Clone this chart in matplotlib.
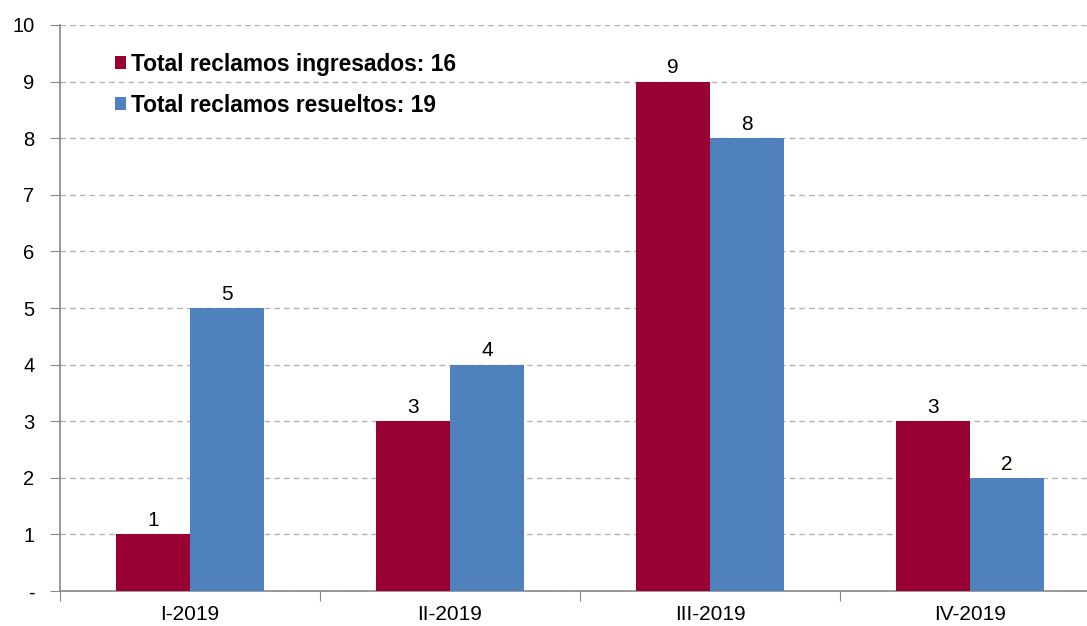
import matplotlib
matplotlib.use("Agg")
import matplotlib.pyplot as plt
import numpy as np

categories = ["I-2019", "II-2019", "III-2019", "IV-2019"]
ingresados = [1, 3, 9, 3]
resueltos = [5, 4, 8, 2]
legend_labels = ["Total reclamos ingresados: 16", "Total reclamos resueltos: 19"]
ytick_labels = ["-", "1", "2", "3", "4", "5", "6", "7", "8", "9", "10"]

plt.rcParams['font.family'] = ['Liberation Sans', 'DejaVu Sans']

fig = plt.figure(figsize=(10.87, 6.26), dpi=100)
ax = fig.add_axes([60/1087, 35/626, 1040/1087, 566/626])

x = np.arange(len(categories))
w = 0.285
red = "#990033"
blue = "#4F81BD"
b1 = ax.bar(x - w/2, ingresados, w, color=red, label=legend_labels[0], zorder=3)
b2 = ax.bar(x + w/2, resueltos, w, color=blue, label=legend_labels[1], zorder=3)
ax.bar_label(b1, padding=3, fontsize=15)
ax.bar_label(b2, padding=3, fontsize=15)

ax.set_xlim(-0.5, len(categories) - 0.5)
ax.set_ylim(0, 10)
ax.set_yticks(range(11))
ax.set_yticklabels(ytick_labels, fontsize=14.5)
ax.yaxis.grid(True, linestyle=(0, (4, 3)), color="#b3b3b3", linewidth=1, zorder=0)

ax.set_xticks(np.arange(-0.5, len(categories) + 0.5, 1.0))
ax.set_xticklabels([])
ax.set_xticks(x, minor=True)
ax.set_xticklabels(categories, minor=True, fontsize=15)
ax.tick_params(axis='x', which='minor', length=0, pad=10)
ax.tick_params(axis='x', which='major', length=7, color="#888888", direction='out')
ax.tick_params(axis='y', length=7, color="#888888", pad=11.5)

for s in ['top', 'right']:
    ax.spines[s].set_visible(False)
for s in ['left', 'bottom']:
    ax.spines[s].set_color("#888888")
    ax.spines[s].set_linewidth(1.2)

leg = ax.legend(loc='upper left', bbox_to_anchor=(0.044, 0.967), frameon=False,
                prop={'weight': 'bold', 'size': 16.4}, handlelength=0.5, handleheight=0.5,
                handletextpad=0.22, labelspacing=0.78, borderaxespad=0)

fig.savefig("out.png", dpi=100)
